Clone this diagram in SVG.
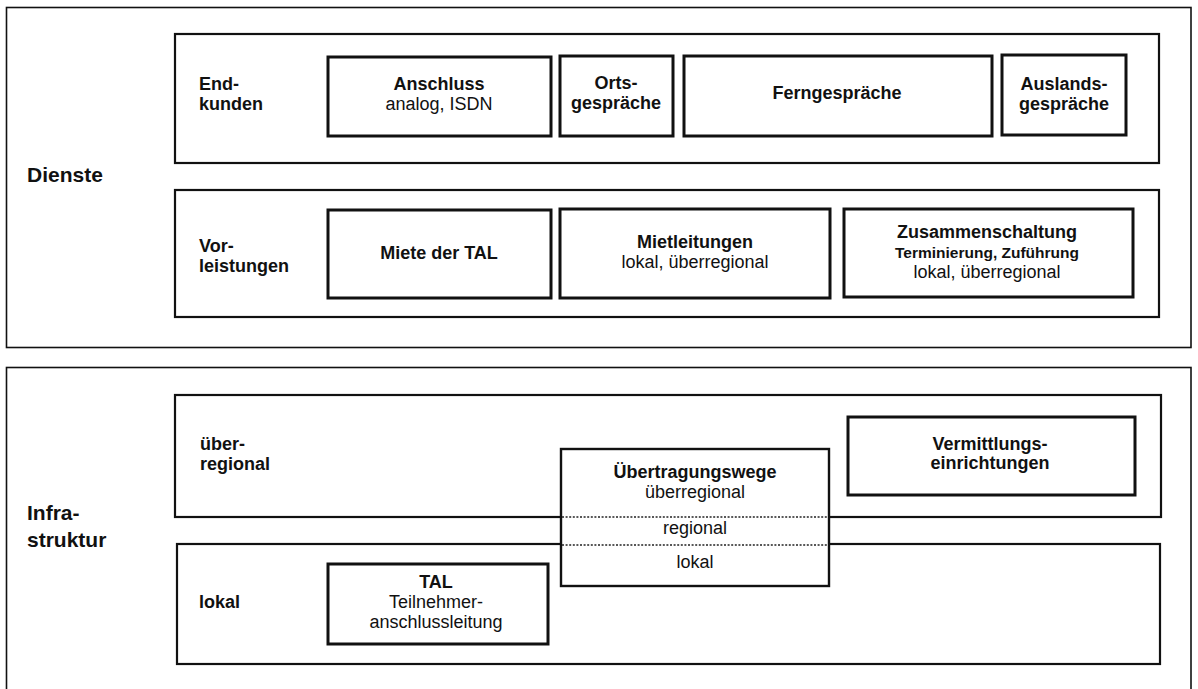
<svg xmlns="http://www.w3.org/2000/svg" width="1198" height="689" viewBox="0 0 1198 689">
<style>
text{font-family:"Liberation Sans",Arial,sans-serif;fill:#111;font-size:18px}
.b{font-weight:bold}
.m{text-anchor:middle}
.big{font-size:21px;font-weight:bold}
.sm{font-size:15.5px;font-weight:bold}
.outer{fill:none;stroke:#111;stroke-width:1.6}
.cat{fill:none;stroke:#111;stroke-width:2.2}
.item{fill:#fff;stroke:#111;stroke-width:3}
.dot{stroke:#222;stroke-width:1.3;stroke-dasharray:2 1.6;fill:none}
</style>
<rect width="1198" height="689" fill="#fff"/>
<g id="dienste">
<rect class="outer" x="6.5" y="7.5" width="1184.5" height="340"/>
<text class="big" x="27" y="182">Dienste</text>
</g>
<g id="endkunden">
<rect class="cat" x="175" y="34" width="984" height="129"/>
<text class="b" x="199" y="90">End-</text>
<text class="b" x="199" y="110">kunden</text>
</g>
<g id="anschluss">
<rect class="item" x="328" y="57" width="223" height="79"/>
<text class="b m" x="439" y="90">Anschluss</text>
<text class="m" x="439" y="110">analog, ISDN</text>
</g>
<g id="ortsgespraeche">
<rect class="item" x="560" y="56" width="113" height="80"/>
<text class="b m" x="616" y="89">Orts-</text>
<text class="b m" x="616" y="109">gespräche</text>
</g>
<g id="ferngespraeche">
<rect class="item" x="684" y="56" width="308" height="80"/>
<text class="b m" x="837" y="99">Ferngespräche</text>
</g>
<g id="auslandsgespraeche">
<rect class="item" x="1002" y="55" width="124" height="80"/>
<text class="b m" x="1064" y="90">Auslands-</text>
<text class="b m" x="1064" y="110">gespräche</text>
</g>
<g id="vorleistungen">
<rect class="cat" x="175" y="190" width="984" height="127"/>
<text class="b" x="199" y="252">Vor-</text>
<text class="b" x="199" y="272">leistungen</text>
</g>
<g id="miete-tal">
<rect class="item" x="328" y="210" width="223" height="88"/>
<text class="b m" x="439" y="259">Miete der TAL</text>
</g>
<g id="mietleitungen">
<rect class="item" x="560" y="209" width="270" height="89"/>
<text class="b m" x="695" y="248">Mietleitungen</text>
<text class="m" x="695" y="268">lokal, überregional</text>
</g>
<g id="zusammenschaltung">
<rect class="item" x="844" y="209" width="289" height="88"/>
<text class="b m" x="987" y="238">Zusammenschaltung</text>
<text class="sm m" x="987" y="258">Terminierung, Zuführung</text>
<text class="m" x="987" y="278">lokal, überregional</text>
</g>
<g id="infrastruktur">
<rect class="outer" x="6.5" y="367.5" width="1184.5" height="340"/>
<text class="big" x="27" y="520">Infra-</text>
<text class="big" x="27" y="547">struktur</text>
</g>
<g id="ueberregional">
<rect class="cat" x="175" y="395" width="986" height="122"/>
<text class="b" x="200" y="450">über-</text>
<text class="b" x="200" y="470">regional</text>
</g>
<g id="lokal">
<rect class="cat" x="177" y="544" width="983" height="120"/>
<text class="b" x="199" y="608">lokal</text>
</g>
<g id="vermittlung">
<rect class="item" x="848" y="417" width="287" height="78"/>
<text class="b m" x="990" y="450">Vermittlungs-</text>
<text class="b m" x="990" y="469">einrichtungen</text>
</g>
<g id="tal">
<rect class="item" x="328" y="564" width="220" height="80"/>
<text class="b m" x="436" y="588">TAL</text>
<text class="m" x="436" y="608">Teilnehmer-</text>
<text class="m" x="436" y="628">anschlussleitung</text>
</g>
<g id="uebertragungswege">
<rect fill="#fff" stroke="#111" stroke-width="2.4" x="561" y="449" width="268" height="137"/>
<text class="b m" x="695" y="478">Übertragungswege</text>
<text class="m" x="695" y="498">überregional</text>
<text class="m" x="695" y="534">regional</text>
<text class="m" x="695" y="568">lokal</text>
</g>
<g id="connectors">
<line class="dot" x1="562" y1="517" x2="828" y2="517"/>
<line class="dot" x1="562" y1="545" x2="828" y2="545"/>
</g>
</svg>
